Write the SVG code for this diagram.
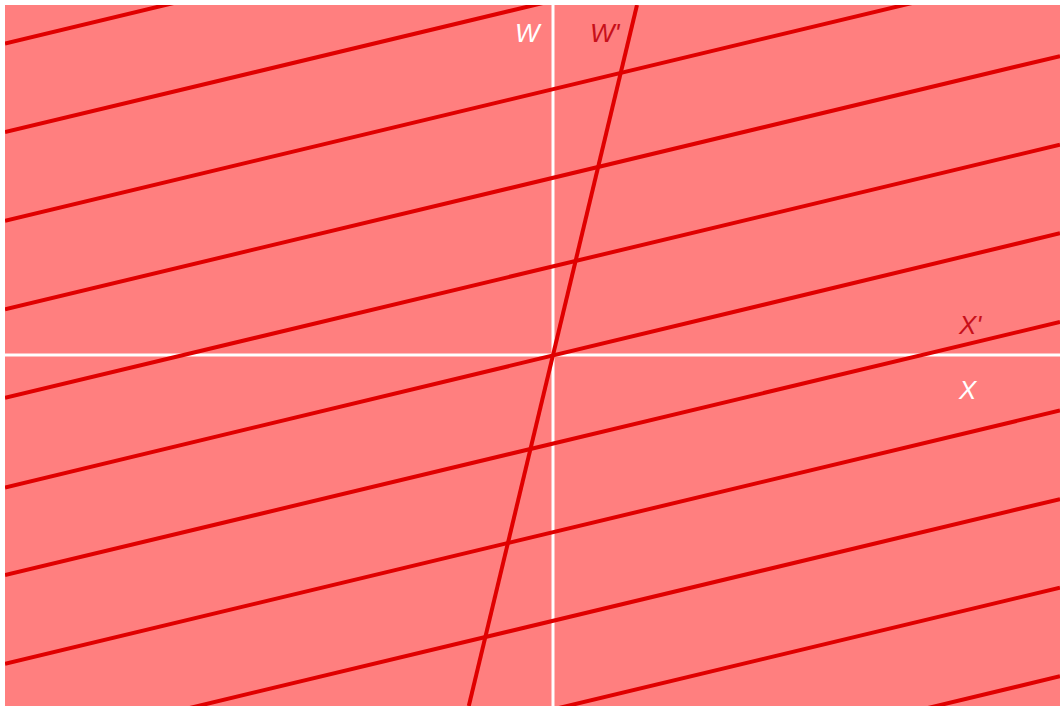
<svg xmlns="http://www.w3.org/2000/svg" width="1060" height="706" viewBox="0 0 1060 706">
  <style>
    .bg { fill: #ff7f7f; }
    .axis { stroke: #ffffff; stroke-width: 3; fill: none; }
    .wl { stroke: #e00000; stroke-width: 4; fill: none; stroke-linecap: butt; }
    .lbl { font-family: "Liberation Sans", Arial, sans-serif; font-style: italic; font-size: 26px; }
    .white { fill: #ffffff; }
    .red { fill: #c8101a; }
  </style>
  <defs>
    <clipPath id="area">
      <rect x="5" y="5" width="1055" height="701"/>
    </clipPath>
  </defs>
  <rect x="0" y="0" width="1060" height="706" fill="#ffffff"/>
  <rect class="bg" x="5" y="5" width="1055" height="701"/>
  <g id="axes">
    <line class="axis" x1="553" y1="5" x2="553" y2="706"/>
    <line class="axis" x1="5" y1="355" x2="1060" y2="355"/>
  </g>
  <g id="worldlines" clip-path="url(#area)">
    <line class="wl" x1="5" y1="43.5" x2="1060" y2="-209.7"/>
    <line class="wl" x1="5" y1="132.1" x2="1060" y2="-121.1"/>
    <line class="wl" x1="5" y1="220.7" x2="1060" y2="-32.5"/>
    <line class="wl" x1="5" y1="309.3" x2="1060" y2="56.1"/>
    <line class="wl" x1="5" y1="397.9" x2="1060" y2="144.7"/>
    <line class="wl" x1="5" y1="487.5" x2="1060" y2="233.3"/>
    <line class="wl" x1="5" y1="575.1" x2="1060" y2="321.9"/>
    <line class="wl" x1="5" y1="663.7" x2="1060" y2="410.5"/>
    <line class="wl" x1="5" y1="752.3" x2="1060" y2="499.1"/>
    <line class="wl" x1="5" y1="840.9" x2="1060" y2="587.7"/>
    <line class="wl" x1="5" y1="929.5" x2="1060" y2="676.3"/>
    <line class="wl" x1="637" y1="5" x2="468.8" y2="706"/>
  </g>
  <g id="labels">
    <text class="lbl white" x="515" y="42">W</text>
    <text class="lbl red" x="590" y="42">W'</text>
    <text class="lbl red" x="959" y="334">X'</text>
    <text class="lbl white" x="959" y="399">X</text>
  </g>
</svg>
